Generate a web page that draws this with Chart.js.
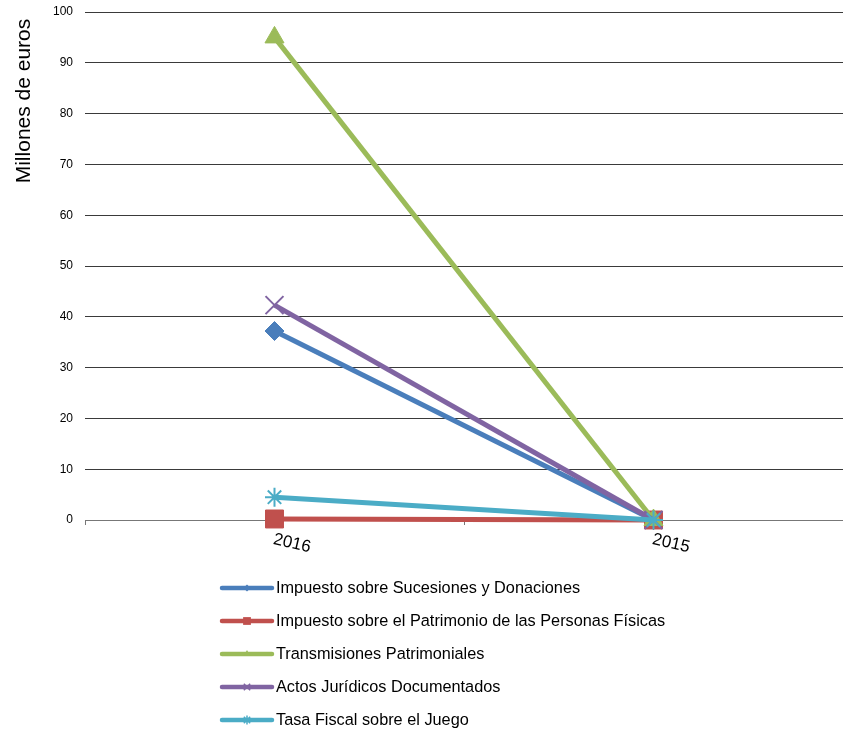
<!DOCTYPE html>
<html><head><meta charset="utf-8">
<script src="https://cdn.jsdelivr.net/npm/chart.js@4/dist/chart.umd.min.js"></script>
<style>html,body{margin:0;padding:0;background:#fff;} #wrap{width:843px;height:732px;position:relative;}</style>
</head><body><div id="wrap"><canvas id="c" width="843" height="732"></canvas></div>
<script>
const categories = ['2016', '2015'];
const seriesNames = [
  'Impuesto sobre Sucesiones y Donaciones',
  'Impuesto sobre el Patrimonio de las Personas Físicas',
  'Transmisiones Patrimoniales',
  'Actos Jurídicos Documentados',
  'Tasa Fiscal sobre el Juego'
];
const sucesiones = [37.2, 0];
const patrimonio = [0.2, 0];
const transmisiones = [95, 0];
const actos = [42.3, 0];
const juego = [4.5, 0];
const yAxisTitle = 'Millones de euros';
const yMin = 0, yMax = 100, yStep = 10;

const colors = ['#4A7EBB', '#C0504D', '#9BBB59', '#8064A2', '#4BACC6'];
const styles = ['rectRot', 'rect', 'triangle', 'crossRot', 'star'];
const radii = [9.5, 12.7, 11, 12.7, 9.5];
const legendRadii = [3.5, 5.5, 4, 4.5, 4.5];
const values = [sucesiones, patrimonio, transmisiones, actos, juego];
const FONT = '"Liberation Sans", Arial, sans-serif';

const datasets = values.map((v, i) => ({
  label: seriesNames[i],
  data: v,
  borderColor: colors[i],
  backgroundColor: colors[i],
  pointBackgroundColor: colors[i],
  pointBorderColor: colors[i],
  pointBorderWidth: styles[i] === 'crossRot' || styles[i] === 'star' ? 2 : 1,
  borderWidth: 5,
  pointStyle: styles[i],
  pointRadius: radii[i],
  pointHoverRadius: radii[i],
  tension: 0,
  clip: false,
  order: 4 - i
}));

function drawMarker(ctx, style, r, x, y, color) {
  ctx.save();
  ctx.fillStyle = color; ctx.strokeStyle = color; ctx.lineWidth = 1.5;
  ctx.beginPath();
  if (style === 'rectRot') {
    ctx.moveTo(x, y - r); ctx.lineTo(x + r, y); ctx.lineTo(x, y + r); ctx.lineTo(x - r, y); ctx.closePath(); ctx.fill();
  } else if (style === 'rect') {
    const s = r * Math.SQRT1_2; ctx.rect(x - s, y - s, 2 * s, 2 * s); ctx.fill();
  } else if (style === 'triangle') {
    ctx.moveTo(x, y - r); ctx.lineTo(x + r * 0.87, y + r * 0.5); ctx.lineTo(x - r * 0.87, y + r * 0.5); ctx.closePath(); ctx.fill();
  } else if (style === 'crossRot') {
    const s = r * Math.SQRT1_2;
    ctx.moveTo(x - s, y - s); ctx.lineTo(x + s, y + s); ctx.moveTo(x + s, y - s); ctx.lineTo(x - s, y + s); ctx.stroke();
  } else if (style === 'star') {
    const s = r * Math.SQRT1_2;
    ctx.moveTo(x - s, y - s); ctx.lineTo(x + s, y + s); ctx.moveTo(x + s, y - s); ctx.lineTo(x - s, y + s);
    ctx.moveTo(x, y - r); ctx.lineTo(x, y + r); ctx.stroke();
  }
  ctx.restore();
}

const customDraw = {
  id: 'customDraw',
  afterDraw(chart) {
    const ctx = chart.ctx;
    const xs = chart.scales.x;
    // y-axis title
    ctx.save();
    ctx.fillStyle = '#000';
    ctx.font = '21px ' + FONT;
    ctx.translate(24, 101);
    ctx.rotate(-Math.PI / 2);
    ctx.textAlign = 'center';
    ctx.textBaseline = 'middle';
    ctx.fillText(yAxisTitle, 0, 0);
    ctx.restore();
    // rotated x labels
    ctx.save();
    ctx.fillStyle = '#000';
    ctx.font = '17px ' + FONT;
    categories.forEach((lab, i) => {
      const px = xs.getPixelForValue(i);
      ctx.save();
      ctx.translate(px + 1, 531);
      ctx.rotate(13 * Math.PI / 180);
      ctx.textAlign = 'left';
      ctx.textBaseline = 'top';
      ctx.fillText(lab, 0, 0);
      ctx.restore();
    });
    ctx.restore();
    // vertical legend
    const x0 = 222, x1 = 272, yStart = 588, dy = 33;
    chart.data.datasets.forEach((ds, i) => {
      const y = yStart + i * dy;
      ctx.save();
      ctx.strokeStyle = ds.borderColor;
      ctx.lineWidth = 4.5;
      ctx.lineCap = 'round';
      ctx.beginPath(); ctx.moveTo(x0, y); ctx.lineTo(x1, y); ctx.stroke();
      ctx.restore();
      drawMarker(ctx, styles[i], legendRadii[i], (x0 + x1) / 2, y, ds.borderColor);
      ctx.save();
      ctx.fillStyle = '#000';
      ctx.font = '16.3px ' + FONT;
      ctx.textAlign = 'left';
      ctx.textBaseline = 'middle';
      ctx.fillText(ds.label, 276, y + 1);
      ctx.restore();
    });
  }
};

new Chart(document.getElementById('c'), {
  type: 'line',
  data: { labels: categories, datasets },
  options: {
    responsive: false,
    animation: false,
    layout: { autoPadding: false, padding: { top: 12, right: -4, left: 0, bottom: 0 } },
    plugins: { legend: { display: false }, tooltip: { enabled: false }, title: { display: false } },
    scales: {
      x: {
        offset: true,
        afterFit(scale) { scale.height = 212; scale.paddingLeft = 0; scale.paddingRight = 0; },
        grid: { display: true, drawOnChartArea: false, drawTicks: true, tickLength: 5, offset: true, color: '#777' },
        border: { display: true, color: '#777' },
        ticks: { display: false }
      },
      y: {
        min: yMin, max: yMax,
        afterFit(scale) { scale.width = 85; scale.paddingTop = 0; scale.paddingBottom = 0; },
        ticks: { stepSize: yStep, color: '#000', padding: 12, font: { family: FONT, size: 12 } },
        grid: { color: '#3a3a3a', lineWidth: 1, drawTicks: false },
        border: { display: false },
        title: { display: false }
      }
    }
  },
  plugins: [customDraw]
});
</script>
</body></html>
